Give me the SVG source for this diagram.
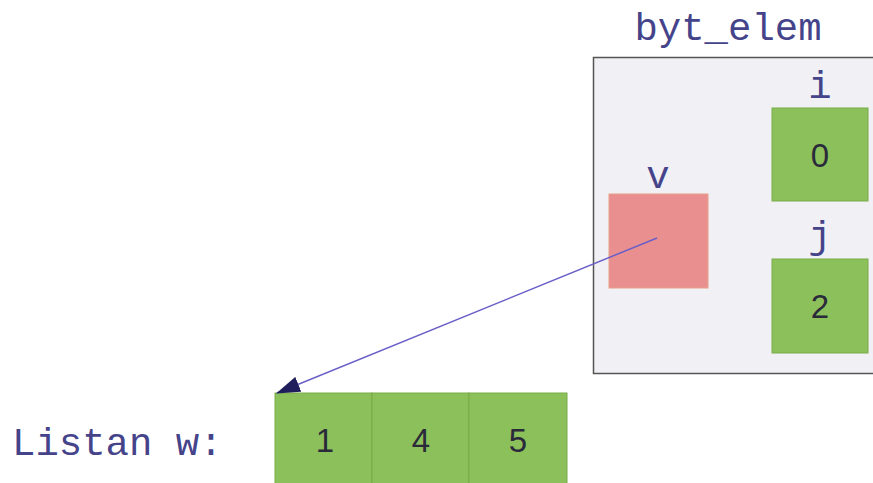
<svg xmlns="http://www.w3.org/2000/svg" width="873" height="483" viewBox="0 0 873 483">
  <style>
    .mono { font-family: "Liberation Mono", "Courier New", monospace; font-size: 39px; fill: #45448a; }
    .num { font-family: "Liberation Sans", Arial, sans-serif; font-size: 33px; fill: #2a2a3a; text-anchor: middle; }
    .green { fill: #8cc05a; stroke: #79ab48; stroke-width: 1; }
  </style>
  <defs>
    <marker id="head" markerWidth="24" markerHeight="16" refX="23" refY="8" orient="auto" markerUnits="userSpaceOnUse" viewBox="0 0 24 16">
      <path d="M0,0 L24,8 L0,16 z" fill="#1f1d5c"/>
    </marker>
  </defs>
  <rect width="873" height="483" fill="#ffffff"/>

  <!-- frame for byt_elem -->
  <g id="byt_elem">
    <text class="mono" x="728" y="40" text-anchor="middle">byt_elem</text>
    <rect x="593.5" y="57.5" width="285" height="316" fill="#f1f0f5" stroke="#555" stroke-width="1.5"/>
  </g>

  <g id="var_i">
    <text class="mono" x="820" y="98" text-anchor="middle">i</text>
    <rect class="green" x="772" y="108" width="96" height="93"/>
    <text class="num" x="820" y="167">0</text>
  </g>

  <g id="var_j">
    <text class="mono" x="820" y="248" text-anchor="middle">j</text>
    <rect class="green" x="772" y="259" width="96" height="94"/>
    <text class="num" x="820" y="318">2</text>
  </g>

  <g id="var_v">
    <text class="mono" x="658" y="188" text-anchor="middle">v</text>
    <rect x="609" y="194" width="99" height="94" fill="#ea8f8f" stroke="#e8a08a" stroke-width="1"/>
  </g>

  <g id="list_w">
    <text class="mono" x="12" y="455">Listan w:</text>
    <rect class="green" x="275" y="393" width="97" height="95"/>
    <rect class="green" x="372" y="393" width="97" height="95"/>
    <rect class="green" x="469" y="393" width="98" height="95"/>
    <text class="num" x="325" y="452">1</text>
    <text class="num" x="421" y="452">4</text>
    <text class="num" x="518" y="452">5</text>
  </g>

  <g id="connectors">
    <line x1="657" y1="238" x2="277" y2="393" stroke="#6a5fc8" stroke-width="1.5" marker-end="url(#head)"/>
  </g>
</svg>
